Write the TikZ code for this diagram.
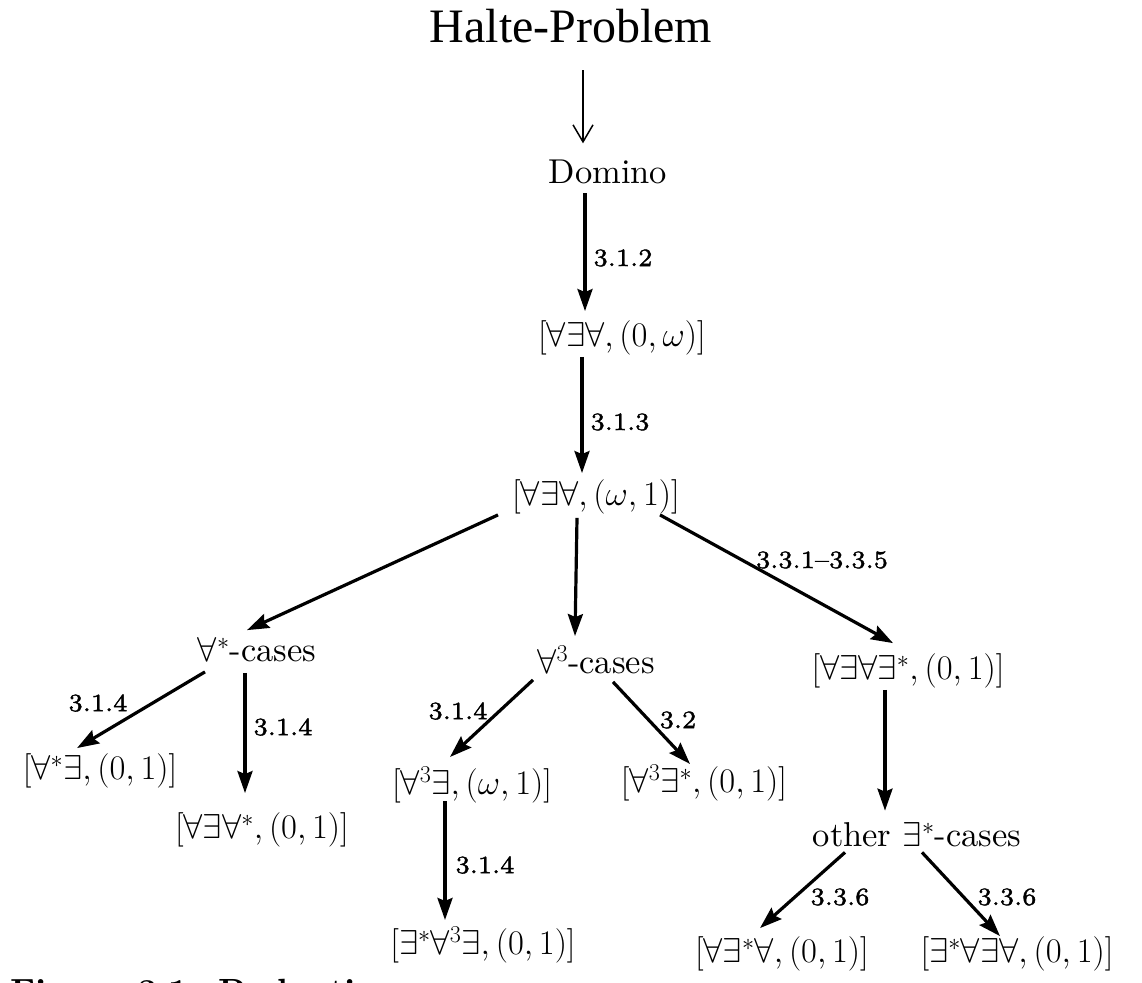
\RequirePackage{fix-cm}
\documentclass[tikz,border=0pt]{standalone}
\usepackage{amsmath,amssymb}
\usepackage{fontspec}
\newfontfamily\haltefont{Liberation Serif}
\newfontfamily\mainfnt[BoldFont=lmroman10-bold.otf]{lmroman10-regular.otf}
\newfontfamily\lblfont[Ligatures=TeX,RawFeature={embolden=1.6}]{lmroman7-regular.otf}
\usetikzlibrary{arrows.meta}
\tikzset{
  txt/.style={font=\mainfnt\fontsize{34.5}{40}\selectfont, inner sep=4pt},
  halt/.style={font=\haltefont\fontsize{48}{54}\selectfont, inner sep=0pt},
  lbl/.style={font=\lblfont\fontsize{25}{28}\selectfont, inner sep=1pt},
  figcap/.style={font=\mainfnt\bfseries\fontsize{35}{40}\selectfont, inner sep=0pt},
  arr/.style={-{Stealth[length=22pt,width=15pt,inset=3pt]}, line width=3.2pt},
  thinarr/.style={-{Straight Barb[length=17pt,width=20pt]}, line width=1.5pt},
}
\begin{document}
\begin{tikzpicture}[x=1pt,y=-1pt]
  \useasboundingbox (0,0) rectangle (1142,982);
  % top of the chain
  \node[halt,anchor=base] (hp) at (571,43) {Halte-Problem};
  \node[txt] (dom)  at (608,172) {Domino};
  \node[txt] (n0w)  at (622,338) {$[\forall\exists\forall,(0,\omega)]$};
  \node[txt] (nw1)  at (596,497) {$[\forall\exists\forall,(\omega,1)]$};
  % middle row
  \node[txt] (allstar)  at (257,650) {$\forall^*$-cases};
  \node[txt] (allthree) at (596,660) {$\forall^3$-cases};
  \node[txt] (aeae)     at (908,671) {$[\forall\exists\forall\exists^*,(0,1)]$};
  % leaves
  \node[txt] (asE)   at (100,771)  {$[\forall^*\exists,(0,1)]$};
  \node[txt] (aeas)  at (262,830)  {$[\forall\exists\forall^*,(0,1)]$};
  \node[txt] (a3e)   at (472,785)  {$[\forall^3\exists,(\omega,1)]$};
  \node[txt] (a3es)  at (704,783)  {$[\forall^3\exists^*,(0,1)]$};
  \node[txt] (other) at (917,835)  {other $\exists^*$-cases};
  \node[txt] (eae)   at (483,945)  {$[\exists^*\forall^3\exists,(0,1)]$};
  \node[txt] (aesa)  at (782,954)  {$[\forall\exists^*\forall,(0,1)]$};
  \node[txt] (eaea)  at (1017,954) {$[\exists^*\forall\exists\forall,(0,1)]$};
  \node[figcap,anchor=base west] (fig) at (10,1003) {Figure 3.1: Reduction};
  % section labels
  \node[lbl] (l312)  at (623,258) {3.1.2};
  \node[lbl] (l313)  at (620,422) {3.1.3};
  \node[lbl] (l33x)  at (822,560) {3.3.1--3.3.5};
  \node[lbl] (l314a) at (98,703)  {3.1.4};
  \node[lbl] (l314b) at (283,727) {3.1.4};
  \node[lbl] (l314c) at (458,711) {3.1.4};
  \node[lbl] (l32)   at (678,720) {3.2};
  \node[lbl] (l314d) at (485,865) {3.1.4};
  \node[lbl] (l336a) at (840,897) {3.3.6};
  \node[lbl] (l336b) at (1007,897) {3.3.6};
  % arrows
  \draw[thinarr] ([xshift=12pt,yshift=-27pt]hp.base) -- ([xshift=-25pt,yshift=12.5pt]dom.north);
  \foreach \a/\ax/\ay/\b/\bx/\by in {dom/-23/-5/n0w/-37/5.5, n0w/-40/2.5/nw1/-14/2.5,
      nw1/-98/3.5/allstar/-10/3.5, nw1/-19/0.5/allthree/-21/5.5, nw1/64/3.5/aeae/-15/6.5,
      allstar/-52/-5.5/asE/-23/1.5, allstar/-12/-6.5/aeas/-17/15.5,
      allthree/-63/-1.5/a3e/-22/5.5, allthree/17/-3.5/a3es/-14/-3.5,
      a3e/-27/6.5/eae/-38/2.5, aeae/-23/2.5/other/-32/8,
      other/-72/-1/aesa/-22/4.5, other/5/-1/eaea/-17/-3.5}{
    \draw[arr] ([xshift=\ax pt,yshift=\ay pt]\a.south) -- ([xshift=\bx pt,yshift=\by pt]\b.north);
  }
\end{tikzpicture}
\end{document}
